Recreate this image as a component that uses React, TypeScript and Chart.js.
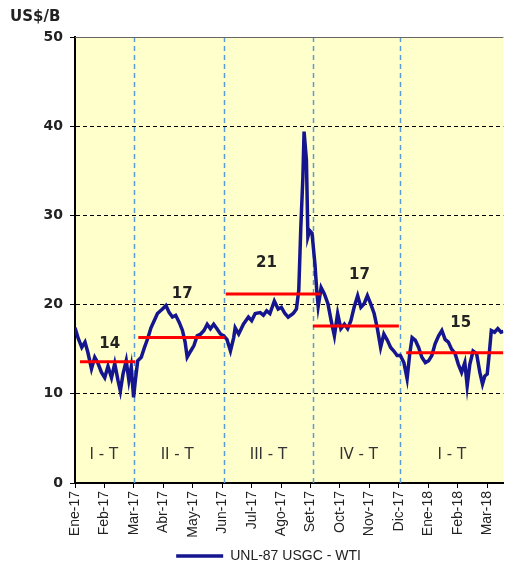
import { useEffect, useRef } from "react";
import { Chart, registerables } from "chart.js";

Chart.register(...registerables);

// x axis categories (month tick labels)
const monthLabels = [
  "Ene-17", "Feb-17", "Mar-17", "Abr-17", "May-17", "Jun-17", "Jul-17",
  "Ago-17", "Set-17", "Oct-17", "Nov-17", "Dic-17", "Ene-18", "Feb-18", "Mar-18",
];

// series position along the time axis, in months from Ene-17
const seriesX = [
  0.0, 0.11, 0.23, 0.34, 0.44, 0.56, 0.67, 0.77, 0.9, 1.01, 1.12, 1.24, 1.35, 1.46,
  1.54, 1.63, 1.74, 1.83, 1.91, 1.99, 2.05, 2.13, 2.25, 2.36, 2.47, 2.58, 2.69, 2.8,
  2.97, 3.09, 3.2, 3.31, 3.42, 3.54, 3.65, 3.74, 3.81, 3.93, 4.04, 4.15, 4.27, 4.38,
  4.49, 4.6, 4.71, 4.82, 4.94, 5.05, 5.16, 5.28, 5.39, 5.44, 5.56, 5.72, 5.89, 6.0,
  6.12, 6.29, 6.4, 6.51, 6.62, 6.77, 6.9, 7.01, 7.13, 7.24, 7.41, 7.52, 7.6, 7.67,
  7.74, 7.78, 7.86, 7.91, 7.97, 8.05, 8.15, 8.21, 8.26, 8.36, 8.47, 8.59, 8.7, 8.81,
  8.92, 9.03, 9.15, 9.26, 9.37, 9.48, 9.6, 9.71, 9.82, 9.93, 10.04, 10.16, 10.27,
  10.38, 10.49, 10.61, 10.72, 10.83, 10.94, 11.05, 11.17, 11.28, 11.37, 11.45, 11.56,
  11.67, 11.78, 11.9, 12.01, 12.12, 12.23, 12.35, 12.46, 12.57, 12.68, 12.79, 12.91,
  13.02, 13.13, 13.24, 13.32, 13.41, 13.52, 13.64, 13.75, 13.84, 13.92, 14.0, 14.07,
  14.14, 14.25, 14.36, 14.47, 14.55,
];

// UNL-87 USGC - WTI spread, US$/B
const seriesY = [
  17.4, 16.2, 15.2, 15.8, 14.6, 12.8, 14.1, 13.5, 12.4, 11.8, 13.1, 11.8, 13.4, 11.5,
  10.3, 12.2, 13.7, 11.5, 13.0, 9.6, 11.5, 13.7, 14.1, 15.2, 16.2, 17.4, 18.2, 19.0,
  19.5, 19.9, 19.1, 18.6, 18.8, 18.0, 17.1, 15.8, 14.1, 14.8, 15.4, 16.5, 16.7, 17.1,
  17.8, 17.3, 17.8, 17.3, 16.7, 16.5, 16.1, 14.8, 16.3, 17.4, 16.7, 17.8, 18.6, 18.2,
  19.0, 19.1, 18.8, 19.3, 19.0, 20.4, 19.5, 19.7, 19.0, 18.6, 19.0, 19.5, 21.6, 28.7,
  34.3, 39.4, 36.2, 27.6, 28.3, 28.0, 24.5, 21.6, 19.8, 21.9, 21.2, 20.1, 18.2, 16.5,
  19.0, 17.3, 17.8, 17.3, 18.2, 19.7, 21.0, 19.7, 20.1, 21.0, 20.1, 19.0, 17.3,
  15.2, 16.7, 16.0, 15.2, 14.8, 14.3, 14.3, 13.5, 11.7, 14.5, 16.3, 16.0,
  15.2, 14.1, 13.5, 13.7, 14.3, 15.6, 16.5, 17.1, 16.1, 15.8, 15.0, 14.5,
  13.3, 12.4, 13.5, 10.9, 13.3, 14.8, 14.5, 12.4, 11.1, 12.0, 12.2, 14.5,
  17.1, 16.9, 17.3, 16.9, 17.0,
];

// quarterly averages
const quarterNames = ["I - T", "II - T", "III - T", "IV - T", "I - T"];
const quarterAvg = [13.6, 16.3, 21.2, 17.6, 14.6];
const quarterAvgText = ["14", "17", "21", "17", "15"];
const quarterFrom = [0.17, 2.15, 5.12, 8.08, 11.25];
const quarterTo = [2.05, 5.08, 8.34, 11.0, 14.55];
const quarterBounds = [2.02, 5.05, 8.07, 11.05];

// annotation anchors (axis units)
const avgLabelX = [1.18, 3.64, 6.5, 9.66, 13.1];
const avgLabelY = [15.6, 21.2, 24.6, 23.3, 17.9];
const quarterLabelX = [0.98, 3.47, 6.57, 9.63, 12.8];
const quarterLabelY = 3.15;

const SERIES_NAME = "UNL-87 USGC - WTI";
const SANS = "'Liberation Sans', Arial, sans-serif";
const WIDE = "'DejaVu Sans', Verdana, sans-serif";

const decor = {
  id: "decor",
  beforeDraw(chart: any) {
    const { ctx, chartArea: a } = chart;
    ctx.save();
    ctx.fillStyle = "#FFFFCC";
    ctx.fillRect(a.left, a.top, a.right - a.left, a.bottom - a.top);
    ctx.restore();
  },
  beforeDatasetsDraw(chart: any) {
    const { ctx, chartArea: a } = chart;
    const xs = chart.scales.x;
    const ys = chart.scales.y;
    ctx.save();
    ctx.strokeStyle = "#5B9BD5";
    ctx.lineWidth = 1.5;
    ctx.setLineDash([5, 4]);
    quarterBounds.forEach((b) => {
      const px = Math.round(xs.getPixelForValue(b)) + 0.5;
      ctx.beginPath();
      ctx.moveTo(px, a.top);
      ctx.lineTo(px, a.bottom);
      ctx.stroke();
    });
    ctx.setLineDash([]);
    ctx.strokeStyle = "#666";
    ctx.lineWidth = 1;
    const ty = Math.round(ys.getPixelForValue(50)) + 0.5;
    ctx.beginPath();
    ctx.moveTo(a.left, ty);
    ctx.lineTo(a.right, ty);
    ctx.stroke();
    ctx.restore();
  },
  afterDatasetsDraw(chart: any) {
    const { ctx } = chart;
    const xs = chart.scales.x;
    const ys = chart.scales.y;
    ctx.save();
    ctx.textAlign = "center";
    ctx.textBaseline = "middle";
    ctx.fillStyle = "#222";
    ctx.font = `bold 15px ${WIDE}`;
    quarterAvgText.forEach((t, i) => {
      ctx.fillText(t, xs.getPixelForValue(avgLabelX[i]), ys.getPixelForValue(avgLabelY[i]));
    });
    ctx.font = `15px ${WIDE}`;
    ctx.fillStyle = "#333";
    quarterNames.forEach((t, i) => {
      ctx.fillText(t, xs.getPixelForValue(quarterLabelX[i]), ys.getPixelForValue(quarterLabelY));
    });
    ctx.font = `bold 15px ${WIDE}`;
    ctx.fillStyle = "#222";
    ctx.textAlign = "left";
    ctx.fillText("US$/B", 10, 17);
    ctx.restore();
  },
};

export default function App() {
  const ref = useRef<HTMLCanvasElement | null>(null);

  useEffect(() => {
    document.body.style.margin = "0";
    const canvas = ref.current;
    if (!canvas) return;
    const chart = new Chart(canvas, {
      type: "line",
      data: {
        datasets: [
          {
            label: SERIES_NAME,
            data: seriesX.map((x, i) => ({ x, y: seriesY[i] })),
            borderColor: "#15158F",
            backgroundColor: "#15158F",
            borderWidth: 3.5,
            pointRadius: 0,
            tension: 0,
            order: 2,
          },
          ...quarterAvg.map((v, i) => ({
            label: "avg" + i,
            data: [
              { x: quarterFrom[i], y: v },
              { x: quarterTo[i], y: v },
            ],
            borderColor: "#FF0000",
            backgroundColor: "#FF0000",
            borderWidth: 3,
            pointRadius: 0,
            order: 1,
          })),
        ],
      },
      options: {
        animation: false,
        responsive: false,
        devicePixelRatio: 1,
        layout: { padding: { left: 30, right: 0, top: 37, bottom: -6 } },
        scales: {
          x: {
            type: "linear",
            min: 0,
            max: 14.55,
            afterBuildTicks: (s: any) => {
              s.ticks = monthLabels.map((_, i) => ({ value: i }));
            },
            afterFit: (s: any) => {
              s.height = 66;
            },
            ticks: {
              autoSkip: false,
              maxRotation: 90,
              minRotation: 90,
              padding: 3,
              color: "#222",
              font: { family: SANS, size: 14 },
              callback: (v: any) => monthLabels[Math.round(v)] ?? "",
            },
            grid: {
              drawOnChartArea: false,
              drawTicks: true,
              tickLength: 5,
              tickColor: "#000",
              tickWidth: 1,
            },
            border: { color: "#000", width: 2 },
          },
          y: {
            min: 0,
            max: 50,
            afterFit: (s: any) => {
              s.width = 45;
            },
            ticks: {
              stepSize: 10,
              padding: 7,
              color: "#222",
              font: { family: WIDE, size: 14, weight: "bold" },
            },
            grid: {
              color: (c: any) =>
                c.tick && (c.tick.value === 0 || c.tick.value === 50) ? "rgba(0,0,0,0)" : "#000",
              lineWidth: 1,
              tickColor: "#000",
              tickLength: 5,
              tickBorderDash: [],
            },
            border: { color: "#000", width: 2, dash: [4, 3] },
          },
        },
        plugins: {
          tooltip: { enabled: false },
          legend: {
            position: "bottom",
            labels: {
              usePointStyle: true,
              pointStyle: "line",
              pointStyleWidth: 47,
              padding: 0,
              color: "#222",
              font: { family: SANS, size: 14 },
              filter: (item: any) => item.datasetIndex === 0,
            },
          },
        },
      },
      plugins: [decor],
    } as any);
    return () => chart.destroy();
  }, []);

  return (
    <div style={{ width: 507, height: 567 }}>
      <canvas ref={ref} width={507} height={567} style={{ display: "block" }} />
    </div>
  );
}
